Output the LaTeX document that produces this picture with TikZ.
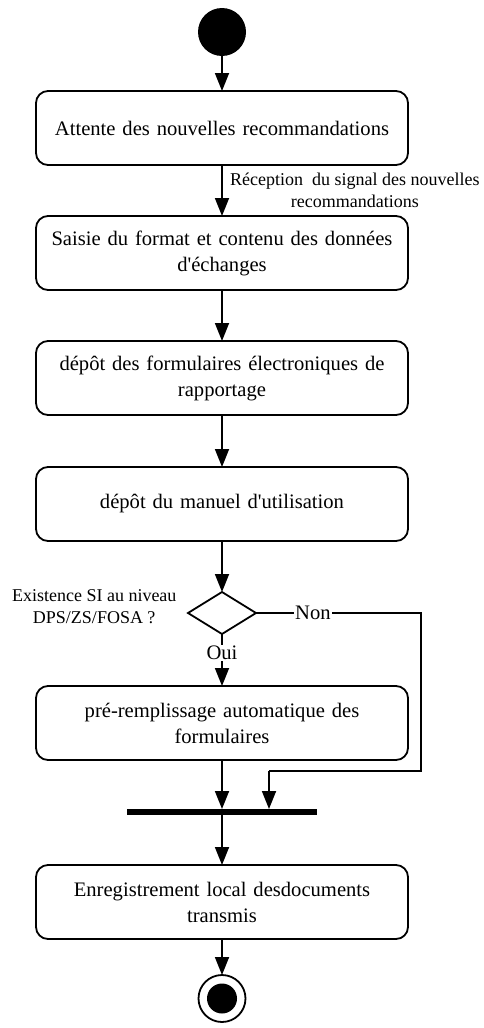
\documentclass[tikz,border=0pt]{standalone}
\usepackage{fontspec}
\setmainfont{Liberation Serif}
\usepackage{tikz}
\usetikzlibrary{arrows.meta, positioning, shapes.geometric}
\definecolor{actline}{RGB}{0,0,0}
\tikzset{
  action/.style={
    rectangle, rounded corners=12pt, draw=actline, line width=1.8pt,
    fill=white, minimum width=372pt, minimum height=74pt, outer sep=0pt,
    text width=352pt, align=center, font=\fontsize{20.6}{26}\selectfont
  },
  startnode/.style={circle, fill=actline, minimum size=48pt, inner sep=0pt, outer sep=0pt},
  endring/.style={circle, draw=actline, line width=1.8pt, minimum size=47pt, inner sep=0pt, outer sep=0pt},
  enddot/.style={circle, fill=actline, minimum size=30pt, inner sep=0pt},
  decision/.style={diamond, draw=actline, line width=1.8pt, minimum width=68pt,
    minimum height=42pt, inner sep=0pt, outer sep=0pt},
  joinbar/.style={rectangle, fill=actline, minimum width=190pt, minimum height=6pt,
    inner sep=0pt, outer sep=0pt},
  guard/.style={fill=white, inner sep=1pt, font=\fontsize{20.6}{24}\selectfont},
  note/.style={align=center, font=\fontsize{18}{22}\selectfont},
  arrowflow/.style={-{Triangle[length=18pt,width=14pt]}, line width=1.8pt, draw=actline},
  plainflow/.style={line width=1.8pt, draw=actline}
}
\begin{document}
\begin{tikzpicture}[x=1pt, y=1pt, node distance=51pt]
\useasboundingbox (0,0) rectangle (484,-1028);

\node[startnode] (start) at (222,-32) {};
\node[action, below=35pt of start] (attente) {Attente des nouvelles recommandations};
\node[action, below=of attente] (saisie) {Saisie du format et contenu des données\\ d\textquotesingle échanges};
\node[action, below=of saisie] (formul) {dépôt des formulaires électroniques de\\ rapportage};
\node[action, below=52pt of formul] (manuel) {dépôt du manuel d\textquotesingle utilisation};
\node[decision, below=51pt of manuel] (si) {};
\node[action, below=52pt of si] (prerempl) {pré-remplissage automatique des\\ formulaires};
\node[joinbar, below=49pt of prerempl] (join) {};
\node[action, below=50pt of join] (enreg) {Enregistrement local desdocuments\\ transmis};
\node[endring, below=36pt of enreg] (fin) {};
\node[enddot] (findot) at (fin) {};

\foreach \a/\b in {start/attente, saisie/formul, formul/manuel, manuel/si, prerempl/join, join/enreg, enreg/fin}
  \draw[arrowflow] (\a) -- (\b);

\draw[arrowflow] (attente) -- node[note, right=4pt] {Réception\ \ du signal des nouvelles\\ recommandations} (saisie);
\draw[arrowflow] (si) -- node[guard, pos=0.36] {Oui} (prerempl);

\node[note, left=8pt of si, yshift=6pt] (question) {Existence SI au niveau\\ DPS/ZS/FOSA ?};

% branche Non vers la barre de jonction
\coordinate (noncorner) at (421,-771);
\coordinate (nonmerge) at (269,-771);
\draw[plainflow] (si.east) -- node[guard, pos=0.345] {Non} (si.east -| noncorner) -- (noncorner) -- (nonmerge);
\draw[arrowflow] (nonmerge) -- (nonmerge |- join.north);
\end{tikzpicture}
\end{document}
